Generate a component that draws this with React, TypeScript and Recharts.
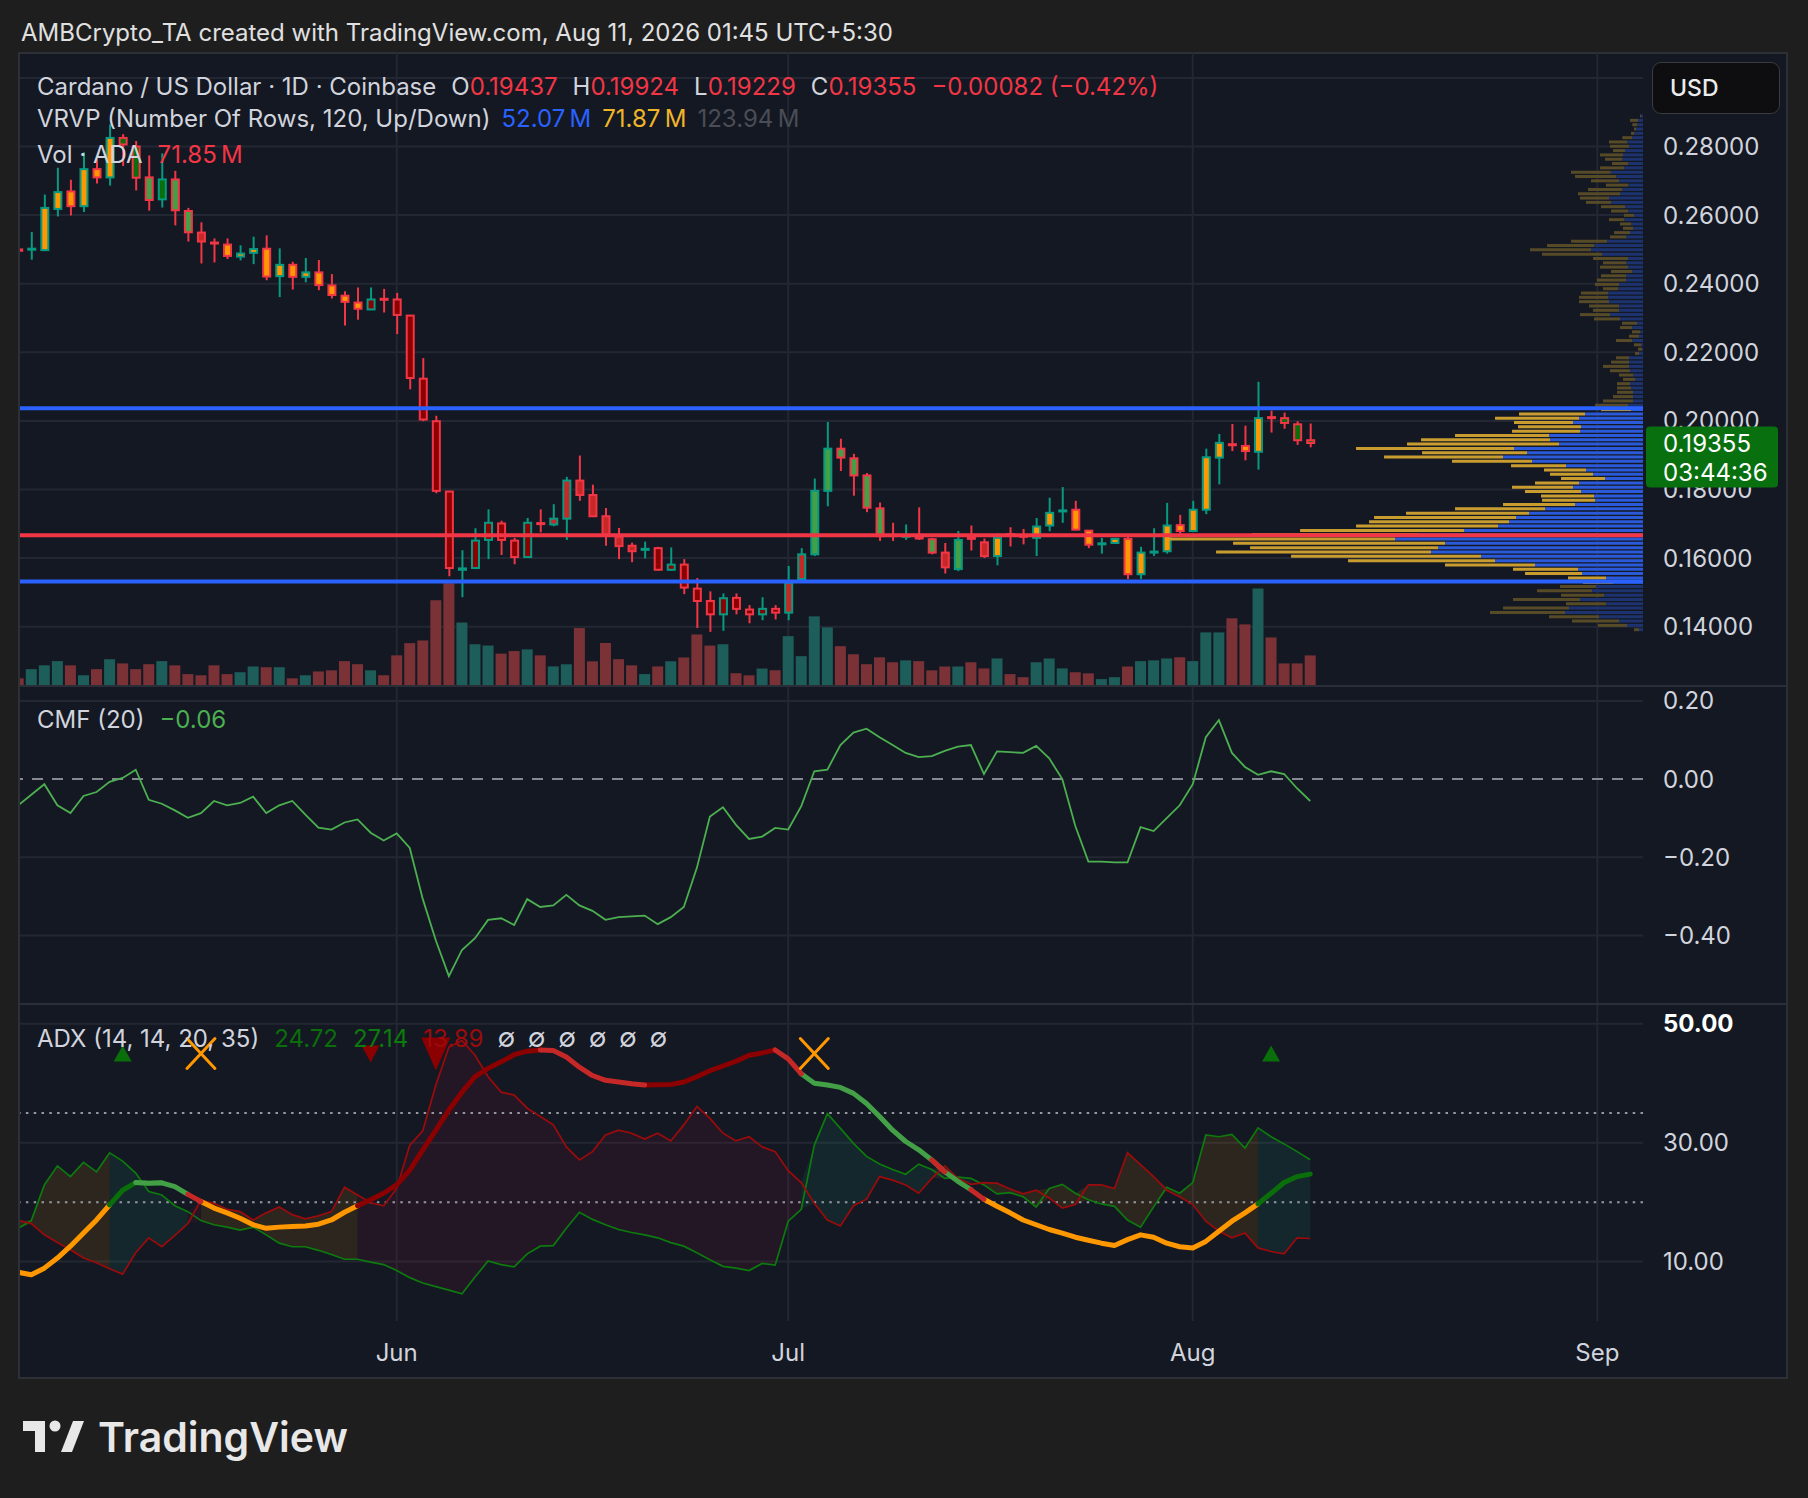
import React from 'react';
import { ComposedChart, Bar, Line, Area, Scatter, XAxis, YAxis, CartesianGrid, ReferenceLine, Cell } from 'recharts';

// ---------------- data ----------------
// day index 0 = May 3; one candle per day up to Aug 10 (index 99)
const MONTH_TICKS = [29, 59, 90, 121];
const MONTH_LABELS = ['Jun', 'Jul', 'Aug', 'Sep'];
const PRICE_TICKS = [0.14, 0.16, 0.18, 0.2, 0.22, 0.24, 0.26, 0.28];
const PRICE_GRID = [0.14, 0.16, 0.18, 0.2, 0.22, 0.24, 0.26, 0.28, 0.3];
const CMF_TICKS = [0.2, 0, -0.2, -0.4];
const CMF_GRID = [0.2, -0.2, -0.4];
const ADX_TICKS = [10, 30, 50];
const ADX_THRESHOLD = 20;
const ADX_STRONG = 35;

const OPEN = [0.2500,0.2500,0.2498,0.2618,0.2669,0.2626,0.2734,0.2710,0.2825,0.2800,
0.2710,0.2646,0.2704,0.2612,0.2549,0.2520,0.2514,0.2479,0.2490,0.2502,
0.2422,0.2455,0.2420,0.2433,0.2395,0.2365,0.2345,0.2325,0.2356,0.2354,
0.2307,0.2123,0.1999,0.1794,0.1566,0.1571,0.1653,0.1701,0.1651,0.1603,
0.1702,0.1698,0.1715,0.1826,0.1784,0.1722,0.1662,0.1636,0.1624,0.1629,
0.1566,0.1581,0.1511,0.1475,0.1436,0.1484,0.1450,0.1436,0.1452,0.1441,
0.1539,0.1611,0.1796,0.1919,0.1891,0.1841,0.1745,0.1667,0.1663,0.1660,
0.1655,0.1616,0.1568,0.1659,0.1646,0.1606,0.1670,0.1665,0.1659,0.1695,
0.1737,0.1741,0.1680,0.1641,0.1644,0.1656,0.1553,0.1616,0.1620,0.1696,
0.1679,0.1741,0.1893,0.1932,0.1927,0.1910,0.2011,0.2008,0.1990,0.19437];
const HIGH = [0.2503,0.2551,0.2660,0.2738,0.2703,0.2783,0.2763,0.2864,0.2836,0.2816,
0.2774,0.2780,0.2729,0.2621,0.2579,0.2532,0.2532,0.2512,0.2537,0.2541,
0.2503,0.2464,0.2475,0.2469,0.2428,0.2378,0.2389,0.2389,0.2385,0.2373,
0.2309,0.2183,0.2015,0.1796,0.1623,0.1687,0.1742,0.1709,0.1659,0.1717,
0.1742,0.1757,0.1837,0.1899,0.1814,0.1746,0.1688,0.1645,0.1648,0.1633,
0.1631,0.1597,0.1542,0.1503,0.1497,0.1497,0.1463,0.1486,0.1463,0.1577,
0.1629,0.1832,0.1997,0.1948,0.1904,0.1848,0.1762,0.1703,0.1698,0.1748,
0.1659,0.1644,0.1679,0.1695,0.1657,0.1672,0.1690,0.1685,0.1717,0.1776,
0.1807,0.1767,0.1681,0.1659,0.1659,0.1664,0.1633,0.1687,0.1761,0.1726,
0.1767,0.1919,0.1962,0.1991,0.1986,0.2114,0.2030,0.2024,0.1999,0.19924];
const LOW = [0.2493,0.2470,0.2495,0.2596,0.2599,0.2609,0.2692,0.2686,0.2743,0.2672,
0.2613,0.2622,0.2570,0.2523,0.2459,0.2462,0.2472,0.2468,0.2457,0.2410,
0.2361,0.2383,0.2404,0.2381,0.2357,0.2278,0.2295,0.2323,0.2316,0.2253,
0.2092,0.1999,0.1789,0.1547,0.1486,0.1568,0.1597,0.1609,0.1582,0.1601,
0.1675,0.1693,0.1653,0.1767,0.1720,0.1636,0.1597,0.1588,0.1599,0.1564,
0.1564,0.1495,0.1396,0.1385,0.1388,0.1436,0.1410,0.1419,0.1421,0.1419,
0.1537,0.1606,0.1751,0.1854,0.1782,0.1734,0.1650,0.1650,0.1653,0.1653,
0.1611,0.1555,0.1562,0.1622,0.1600,0.1579,0.1634,0.1640,0.1606,0.1678,
0.1703,0.1681,0.1629,0.1613,0.1642,0.1539,0.1539,0.1606,0.1613,0.1670,
0.1677,0.1728,0.1815,0.1912,0.1885,0.1858,0.1966,0.1977,0.1930,0.19229];
const CLOSE = [0.2496,0.2502,0.2621,0.2667,0.2626,0.2734,0.2710,0.2825,0.2806,0.2709,
0.2644,0.2704,0.2614,0.2550,0.2523,0.2518,0.2481,0.2488,0.2501,0.2421,
0.2455,0.2420,0.2433,0.2396,0.2367,0.2347,0.2327,0.2354,0.2354,0.2309,
0.2125,0.2004,0.1796,0.1571,0.1570,0.1651,0.1703,0.1653,0.1603,0.1703,
0.1700,0.1715,0.1826,0.1784,0.1722,0.1666,0.1635,0.1620,0.1627,0.1566,
0.1581,0.1514,0.1475,0.1436,0.1483,0.1452,0.1436,0.1452,0.1441,0.1528,
0.1611,0.1796,0.1919,0.1893,0.1841,0.1747,0.1664,0.1665,0.1665,0.1658,
0.1616,0.1573,0.1653,0.1657,0.1606,0.1659,0.1668,0.1663,0.1692,0.1732,
0.1739,0.1683,0.1639,0.1643,0.1656,0.1553,0.1616,0.1619,0.1695,0.1679,
0.1741,0.1894,0.1936,0.1930,0.1912,0.2008,0.2009,0.1994,0.19437,0.19355];
// volume in millions of ADA
const VOLUME = [18,39.5,48.5,58.4,48.5,25.2,39.5,62.9,53,39.5,
51.2,58.4,48.5,27.9,25.2,48.5,27.9,32.3,45.8,44,
44,18,25.2,34.1,36.8,58.4,51.2,36.8,25.2,71.9,
100.6,106.9,201.3,241,149,98,95,76,82,86,
72,46,51,136,58,101,63,48.5,28,46,
58,67,121,95,98,30,25,41,37,117,
70,163.5,137.5,93.5,74.6,51.2,67.4,55.7,60.2,58.4,
36.8,45.8,45.8,55.7,41.3,64.7,27.9,20.7,55.7,64.7,
41.3,32.3,29.7,16.2,20.7,45.8,58.4,60.2,64.7,67.4,
58.4,125.8,125.8,159,144.7,229,114,53,53,71.85];
const CMF = [-0.067,-0.040,-0.013,-0.067,-0.087,-0.043,-0.033,-0.007,0.003,0.024,
-0.053,-0.063,-0.080,-0.099,-0.087,-0.056,-0.067,-0.061,-0.045,-0.087,
-0.067,-0.056,-0.091,-0.124,-0.129,-0.111,-0.103,-0.137,-0.157,-0.139,
-0.176,-0.307,-0.413,-0.504,-0.437,-0.407,-0.360,-0.356,-0.373,-0.307,
-0.327,-0.323,-0.296,-0.323,-0.337,-0.360,-0.353,-0.351,-0.349,-0.371,
-0.353,-0.327,-0.227,-0.096,-0.072,-0.117,-0.153,-0.147,-0.125,-0.129,
-0.069,0.020,0.024,0.087,0.119,0.129,0.107,0.087,0.067,0.056,
0.059,0.072,0.083,0.087,0.013,0.071,0.069,0.067,0.085,0.053,
0.000,-0.120,-0.211,-0.211,-0.213,-0.213,-0.123,-0.133,-0.100,-0.067,
-0.013,0.107,0.151,0.067,0.031,0.011,0.020,0.013,-0.024,-0.056];
const ADX = [8.2,7.8,8.9,10.6,12.6,14.8,17.0,19.55,22.0,23.3,
23.2,23.25,22.6,21.3,20.1,19.0,18.2,17.3,16.2,15.6,
15.8,15.9,16.0,16.3,17.0,18.3,19.4,20.4,21.5,22.9,
25.4,28.8,32.1,35.5,38.5,41.1,42.5,43.6,44.8,45.4,
45.6,45.5,44.4,42.7,41.3,40.5,40.2,39.9,39.7,39.75,
39.8,40.2,41.1,42.1,42.9,43.7,44.7,45.1,45.6,44.1,
41.6,40.0,39.7,39.3,38.3,36.6,34.4,32.1,30.2,28.8,
27.1,25.1,23.5,22.1,20.5,19.3,18.2,17.0,16.2,15.4,
14.8,14.1,13.6,13.1,12.7,13.7,14.5,14.1,13.1,12.5,
12.3,13.4,15.1,16.8,18.2,19.7,21.5,23.3,24.3,24.72];
const PLUS_DI = [15.6,16.9,22.9,26.1,24.3,26.7,25.1,28.3,26.9,24.9,
21.8,21.2,19.4,18.4,16.9,16.2,15.8,15.3,15.8,14.5,
13.1,12.5,12.5,11.9,11.2,10.4,10.4,9.9,9.5,8.5,
7.3,6.4,5.8,5.2,4.6,7.4,10.1,9.5,9.1,11.3,
12.6,12.7,15.6,18.3,17.1,16.2,15.4,14.9,14.5,14.0,
13.2,12.6,11.5,10.3,9.2,8.9,8.5,9.7,9.4,16.8,
18.8,29.6,34.9,32.4,29.9,27.7,26.4,25.5,24.7,26.4,
25.5,24.0,24.2,24.0,22.9,21.4,21.6,20.9,19.2,22.3,
23.0,21.5,20.4,19.7,19.3,17.0,15.8,19.2,22.5,21.5,
23.3,31.3,31.0,31.4,29.1,32.5,31.0,29.8,28.5,27.14];
const MINUS_DI = [16.9,16.4,14.5,13.2,12.0,10.6,9.8,8.8,7.9,11.5,
14.0,12.5,14.4,16.4,20.3,19.8,18.8,18.4,17.0,18.2,
19.2,17.9,17.2,17.7,18.4,22.5,21.2,19.9,19.4,22.3,
29.6,32.0,39.7,46.1,47.2,44.7,41.1,38.5,38.0,35.8,
34.4,33.0,29.3,27.1,28.5,31.3,32.1,31.6,30.6,31.6,
30.3,33.0,36.1,34.1,31.6,30.3,31.0,29.3,28.5,25.3,
23.3,19.8,17.0,16.0,19.4,20.5,24.3,23.7,22.9,21.5,
24.0,26.1,24.0,23.0,23.3,23.2,22.2,21.4,22.0,20.7,
19.0,19.6,22.9,22.9,22.3,28.3,26.3,24.3,22.0,20.9,
19.6,16.8,15.1,14.0,14.8,12.3,11.7,11.3,14.0,13.89];
// signal markers of the ADX study (day index, kind)
const MARKER_DAYS = [8, 14, 27, 32, 61, 96];
const MARKER_KINDS = ['up', 'x', 'down', 'downBig', 'x', 'up'];
const MARKER_LEVEL = 45.0;
// visible-range volume profile, 120 rows from VP_LOW to VP_HIGH (bottom to top)
const VP_LOW = 0.1386;
const VP_HIGH = 0.2896;
const VP_UP = [4,16,24,44,78,74,37,63,39,51, 47,30,37,61,65,108,148,162,212,205,
198,248,224,179,145,134,127,114,98,68, 48,49,62,70,64,38,50,57,77,111,
140,116,129,84,93,94,63,62,70,64, 58,12,15,10,10,10,12,13,8,9.7,
13,14,14,14,4,1,2,10.7,4,2.7, 10.7,6,23,33,24,24,34,35,35,24.7,
24,17,16.7,10.7,15,16.7,15,41,52,48.7, 36,16.7,13,9.7,11.7,18.7,9,14.7,18,31.7,
34,23,20.7,14.7,24,26.7,32.3,19,14.7,20.7, 20,18,14,15.7,10.7,8.7,7,5.7,4.7,2];
const VP_DOWN = [5,29,47,50,75,66,40,67,43,55, 36,30,38,57,65,90,147,190,215,188,
212,226,167,164,142,140,142,123,90,72, 53,53,56,61,44,44,43,42,55,80,
119,105,158,152,129,94,68,63,59,84, 66,30,33,30,20,16,14,13,12,14.3,
20,26,18,13,4,4,7,16.3,10,8.3, 12.3,15,26,30,26,30,30,29,27,15.3,
24,29,25.3,21.3,28,23.3,35,60,61,47.3, 36,16.3,16,10.3,11.3,15.3,10,17.3,24,25.3,
29,42,34.3,22.3,28,41.3,39.7,24,16.3,17.3, 23,12,19,18.3,10,3.3,2,5,8.3,1];
const VAH = 0.2037;
const VAL = 0.1532;
const POC = 0.16665;
const COUNTDOWN = '03:44:36';
const NA_COUNT = 6;

// ---------------- style / layout ----------------
const FONT = 'Inter, "Noto Sans", "DejaVu Sans", sans-serif';
const BG = '#1e1e1e';
const PANE_BG = '#141823';
const GRID = '#232733';
const TEXT = '#d1d4dc';
const UP = '#089981';
const DOWN = '#f23645';
const VOL_UP = '#1d5e5a';
const VOL_DOWN = '#7a3237';
const LEVEL_BLUE = '#2962ff';
const LEVEL_RED = '#f23645';
const VP_COLORS = { upIn: '#2a5ad9', dnIn: '#c99c30', upOut: '#1c336f', dnOut: '#574a27' };
const CMF_COLOR = '#4caf50';
const PDI_COLOR = '#0d7a0d';
const MDI_COLOR = '#9c0b0b';
const STATE_COLORS: any = { o: '#ff9800', gd: '#0a6e0a', gl: '#43a047', rd: '#8b0000', rl: '#c62828' };
const STATE_KEYS = ['o', 'gd', 'gl', 'rd', 'rl'];
const GROUP_FILL: any = { o: 'rgba(255,152,0,0.11)', g: 'rgba(20,150,110,0.13)', r: 'rgba(120,20,50,0.16)' };
const BADGE = '#09700f';

const CHART_W = 1767;
const AXIS_W = 144;
const X_DOMAIN: [number, number] = [0.134, 124.5];
const PRICE_DOMAIN: [number, number] = [0.122711, 0.307259];
const CMF_DOMAIN: [number, number] = [-0.5752, 0.2381];
const ADX_DOMAIN: [number, number] = [0.01, 53.33];
const VOL_AXIS_MAX = 1486;
const PROFILE_SHARE = 0.292;
const FS = 24;
const AXIS_FS = 24;

// ---------------- derived rows ----------------
const N = OPEN.length;
const IDX = OPEN.map((_, k) => k);
const adxState = (k: number) => {
  if (ADX[k] < ADX_THRESHOLD) return 'o';
  const rising = k === 0 || ADX[k] >= ADX[k - 1];
  if (PLUS_DI[k] >= MINUS_DI[k]) return rising ? 'gd' : 'gl';
  return rising ? 'rd' : 'rl';
};
const STATES = IDX.map(adxState);
const group = (s: string) => (s ? s[0] : '');

const candleRows = IDX.map((k) => ({ i: k, o: OPEN[k], h: HIGH[k], l: LOW[k], c: CLOSE[k], v: VOLUME[k], tone: STATES[k] }));
const cmfRows = IDX.map((k) => ({ i: k, cmf: CMF[k] }));
const adxRows = IDX.map((k) => {
  const s = STATES[k];
  const sn = k + 1 < N ? STATES[k + 1] : '';
  const row: any = { i: k, adx: ADX[k], pdi: PLUS_DI[k], mdi: MINUS_DI[k] };
  STATE_KEYS.forEach((key) => { row['adx_' + key] = s === key || sn === key ? ADX[k] : null; });
  const lo = Math.min(PLUS_DI[k], MINUS_DI[k]);
  const hi = Math.max(PLUS_DI[k], MINUS_DI[k]);
  ['o', 'g', 'r'].forEach((g) => { row['fill_' + g] = group(s) === g || group(sn) === g ? [lo, hi] : null; });
  return row;
});
const markerRows = MARKER_DAYS.map((d, k) => ({ i: d, y: MARKER_LEVEL, kind: MARKER_KINDS[k] }));
const VP_STEP = (VP_HIGH - VP_LOW) / VP_UP.length;
const vpRows = VP_UP.map((u, k) => {
  const lo = VP_LOW + k * VP_STEP;
  const hi = lo + VP_STEP;
  return { p: (lo + hi) / 2, up: u, dn: VP_DOWN[k], inVA: hi >= VAL && lo <= VAH };
});
const maxRow = Math.max(...vpRows.map((r) => r.up + r.dn));
const PROFILE_SPAN = maxRow / PROFILE_SHARE;

const minus = (s: string) => s.replace('-', '\u2212');
const LAST = N - 1;
const change = CLOSE[LAST] - CLOSE[LAST - 1];
const changePct = (change / CLOSE[LAST - 1]) * 100;

// ---------------- shapes ----------------
const CandleShape = (props: any) => {
  const { x, y, width, height, payload } = props;
  if (payload == null || x == null) return null;
  const top = Math.min(y, y + height);
  const h = Math.abs(height);
  const range = payload.h - payload.l;
  const py = (v: number) => top + (range > 0 ? ((payload.h - v) / range) * h : 0);
  const up = payload.c >= payload.o;
  const border = up ? UP : DOWN;
  const cx = x + width / 2;
  const yo = py(payload.o);
  const yc = py(payload.c);
  const bt = Math.min(yo, yc);
  const bh = Math.max(Math.abs(yc - yo), 1);
  return (
    <g>
      <line x1={cx} x2={cx} y1={top} y2={top + h} stroke={border} strokeWidth={2} />
      <rect x={x + 1.5} y={bt} width={width - 3} height={bh} fill={STATE_COLORS[payload.tone]} stroke={border} strokeWidth={2} />
    </g>
  );
};

const MarkerShape = (props: any) => {
  const { cx, cy, payload } = props;
  if (cx == null || cy == null) return null;
  const kind = payload.kind;
  if (kind === 'up') return <polygon points={`${cx - 9},${cy + 8} ${cx + 9},${cy + 8} ${cx},${cy - 8}`} fill={STATE_COLORS.gd} />;
  if (kind === 'down') return <polygon points={`${cx - 9},${cy - 8} ${cx + 9},${cy - 8} ${cx},${cy + 9}`} fill={STATE_COLORS.rd} />;
  if (kind === 'downBig') return <polygon points={`${cx - 14.5},${cy - 16} ${cx + 14.5},${cy - 16} ${cx},${cy + 17}`} fill={STATE_COLORS.rd} />;
  return (
    <g stroke="#ff9800" strokeWidth={3} strokeLinecap="round">
      <line x1={cx - 14} y1={cy - 15} x2={cx + 14} y2={cy + 15} />
      <line x1={cx + 14} y1={cy - 15} x2={cx - 14} y2={cy + 15} />
    </g>
  );
};

const BadgeLabel = (props: any) => {
  const vb = props.viewBox;
  if (!vb) return null;
  const x = vb.x + vb.width + 3;
  const y = vb.y;
  return (
    <g>
      <rect x={x} y={y - 16.5} width={132} height={61} rx={4} fill={BADGE} />
      <text x={x + 17} y={y} dy="0.36em" fill="#ffffff" fontSize={AXIS_FS} fontFamily={FONT}>{CLOSE[LAST].toFixed(5)}</text>
      <text x={x + 17} y={y + 29} dy="0.36em" fill="#ffffff" fontSize={AXIS_FS} fontFamily={FONT}>{COUNTDOWN}</text>
    </g>
  );
};

const MonthTick = (props: any) => {
  const { x, y, payload } = props;
  const k = MONTH_TICKS.indexOf(payload.value);
  return (
    <text x={x} y={y + 31} dy="0.36em" textAnchor="middle" fill={TEXT} fontSize={AXIS_FS} fontFamily={FONT}>{MONTH_LABELS[k]}</text>
  );
};

const AdxTick = (props: any) => {
  const { x, y, payload } = props;
  const top = payload.value === ADX_TICKS[ADX_TICKS.length - 1];
  return (
    <text x={x} y={y} dy="0.36em" fill={top ? '#ffffff' : TEXT} fontWeight={top ? 700 : 400} fontSize={AXIS_FS} fontFamily={FONT}>{payload.value.toFixed(2)}</text>
  );
};

const axisTick = { fill: TEXT, fontSize: AXIS_FS, fontFamily: FONT };
const M0 = { top: 0, right: 0, bottom: 0, left: 0 };

const Txt = ({ x, y, size = FS, color = TEXT, weight = 400, children }: any) => (
  <div style={{ position: 'absolute', left: x, top: y - size * 0.5, fontSize: size, lineHeight: `${size}px`, color, fontWeight: weight, whiteSpace: 'nowrap', fontFamily: FONT }}>{children}</div>
);

const Gap = ({ w = 15 }: any) => <span style={{ display: 'inline-block', width: w }} />;

export default function App() {
  return (
    <div style={{ position: 'absolute', left: 0, top: 0, width: 1808, height: 1498, background: BG, overflow: 'hidden', fontFamily: FONT }}>
      <Txt x={21} y={33} size={24} color="#e0e0e0">AMBCrypto_TA created with TradingView.com, Aug 11, 2026 01:45 UTC+5:30</Txt>

      <div style={{ position: 'absolute', left: 18, top: 52, width: 1770, height: 1327, background: PANE_BG, border: '2px solid #2e3038', boxSizing: 'border-box' }} />

      {/* price pane: grid, volume, candles */}
      <div style={{ position: 'absolute', left: 20, top: 53 }}>
        <ComposedChart width={CHART_W} height={633} data={candleRows} margin={M0}>
          <CartesianGrid xAxisId="c" yAxisId="p" stroke={GRID} strokeWidth={2} horizontalValues={PRICE_GRID} verticalValues={MONTH_TICKS} />
          <XAxis xAxisId="c" dataKey="i" type="number" domain={X_DOMAIN} allowDataOverflow ticks={MONTH_TICKS} hide />
          <XAxis xAxisId="v" dataKey="i" type="number" domain={X_DOMAIN} allowDataOverflow hide />
          <YAxis yAxisId="p" orientation="right" width={AXIS_W} type="number" domain={PRICE_DOMAIN} allowDataOverflow ticks={PRICE_TICKS} interval={0}
            tickFormatter={(v: number) => v.toFixed(5)} axisLine={false} tickLine={false} tickSize={0} tickMargin={20} tick={axisTick} />
          <YAxis yAxisId="vol" type="number" domain={[0, VOL_AXIS_MAX]} allowDataOverflow hide />
          <Bar xAxisId="v" yAxisId="vol" dataKey="v" barSize={11} isAnimationActive={false}>
            {candleRows.map((r) => <Cell key={r.i} fill={r.c >= r.o ? VOL_UP : VOL_DOWN} />)}
          </Bar>
          <Bar xAxisId="c" yAxisId="p" dataKey={(r: any) => [r.l, r.h]} barSize={10} shape={CandleShape} isAnimationActive={false} />
        </ComposedChart>
      </div>

      {/* volume profile + levels + last price badge */}
      <div style={{ position: 'absolute', left: 20, top: 53 }}>
        <ComposedChart layout="vertical" width={CHART_W} height={633} data={vpRows} margin={{ top: 0, right: AXIS_W, bottom: 0, left: 0 }}>
          <XAxis type="number" domain={[0, PROFILE_SPAN]} reversed hide />
          <YAxis type="number" dataKey="p" domain={PRICE_DOMAIN} allowDataOverflow reversed hide />
          <Bar dataKey="up" stackId="vp" barSize={3} isAnimationActive={false}>
            {vpRows.map((r, k) => <Cell key={k} fill={r.inVA ? VP_COLORS.upIn : VP_COLORS.upOut} />)}
          </Bar>
          <Bar dataKey="dn" stackId="vp" barSize={3} isAnimationActive={false}>
            {vpRows.map((r, k) => <Cell key={k} fill={r.inVA ? VP_COLORS.dnIn : VP_COLORS.dnOut} />)}
          </Bar>
          <ReferenceLine y={VAH} stroke={LEVEL_BLUE} strokeWidth={4} />
          <ReferenceLine y={VAL} stroke={LEVEL_BLUE} strokeWidth={4} />
          <ReferenceLine y={POC} stroke={LEVEL_RED} strokeWidth={4} />
          <ReferenceLine y={CLOSE[LAST]} stroke="none" label={(p: any) => <BadgeLabel {...p} />} />
        </ComposedChart>
      </div>

      {/* CMF pane */}
      <div style={{ position: 'absolute', left: 20, top: 686 }}>
        <ComposedChart width={CHART_W} height={318} data={cmfRows} margin={M0}>
          <CartesianGrid stroke={GRID} strokeWidth={2} horizontalValues={CMF_GRID} verticalValues={MONTH_TICKS} />
          <XAxis dataKey="i" type="number" domain={X_DOMAIN} allowDataOverflow ticks={MONTH_TICKS} hide />
          <YAxis orientation="right" width={AXIS_W} type="number" domain={CMF_DOMAIN} allowDataOverflow ticks={CMF_TICKS} interval={0}
            tickFormatter={(v: number) => minus(v.toFixed(2))} axisLine={false} tickLine={false} tickSize={0} tickMargin={20} tick={axisTick} />
          <ReferenceLine y={0} stroke="#868993" strokeWidth={2} strokeDasharray="11 9" />
          <Line dataKey="cmf" type="linear" stroke={CMF_COLOR} strokeWidth={1.8} dot={false} activeDot={false} isAnimationActive={false} />
        </ComposedChart>
      </div>

      {/* ADX pane + time axis */}
      <div style={{ position: 'absolute', left: 20, top: 1004 }}>
        <ComposedChart width={CHART_W} height={373} data={adxRows} margin={M0}>
          <CartesianGrid stroke={GRID} strokeWidth={2} horizontalValues={ADX_TICKS} verticalValues={MONTH_TICKS} />
          <XAxis dataKey="i" type="number" domain={X_DOMAIN} allowDataOverflow ticks={MONTH_TICKS} interval={0} height={56}
            axisLine={false} tickLine={false} tickSize={0} tickMargin={0} tick={<MonthTick />} />
          <YAxis orientation="right" width={AXIS_W} type="number" domain={ADX_DOMAIN} allowDataOverflow ticks={ADX_TICKS} interval={0}
            axisLine={false} tickLine={false} tickSize={0} tickMargin={20} tick={<AdxTick />} />
          <ReferenceLine y={ADX_THRESHOLD} stroke="#9598a1" strokeWidth={2} strokeDasharray="2.5 5.3" />
          <ReferenceLine y={ADX_STRONG} stroke="#9598a1" strokeWidth={2} strokeDasharray="2.5 5.3" />
          {['o', 'g', 'r'].map((g) => (
            <Area key={g} dataKey={'fill_' + g} type="linear" stroke="none" fill={GROUP_FILL[g]} fillOpacity={1} dot={false} activeDot={false} isAnimationActive={false} />
          ))}
          <Line dataKey="pdi" type="linear" stroke={PDI_COLOR} strokeWidth={1.7} dot={false} activeDot={false} isAnimationActive={false} />
          <Line dataKey="mdi" type="linear" stroke={MDI_COLOR} strokeWidth={1.7} dot={false} activeDot={false} isAnimationActive={false} />
          {STATE_KEYS.map((s) => (
            <Line key={s} dataKey={'adx_' + s} type="linear" stroke={STATE_COLORS[s]} strokeWidth={5} strokeLinecap="round" strokeLinejoin="round"
              dot={false} activeDot={false} isAnimationActive={false} />
          ))}
          <Scatter data={markerRows} dataKey="y" shape={MarkerShape} isAnimationActive={false} />
        </ComposedChart>
      </div>

      {/* pane separators */}
      <div style={{ position: 'absolute', left: 20, top: 685, width: 1767, height: 2, background: '#2a2e39' }} />
      <div style={{ position: 'absolute', left: 20, top: 1003, width: 1767, height: 2, background: '#2a2e39' }} />

      {/* legends */}
      <Txt x={37} y={86.7}>
        <span>Cardano / US Dollar · 1D · Coinbase</span><Gap />
        <span>O</span><span style={{ color: DOWN }}>{OPEN[LAST].toFixed(5)}</span><Gap />
        <span>H</span><span style={{ color: DOWN }}>{HIGH[LAST].toFixed(5)}</span><Gap />
        <span>L</span><span style={{ color: DOWN }}>{LOW[LAST].toFixed(5)}</span><Gap />
        <span>C</span><span style={{ color: DOWN }}>{CLOSE[LAST].toFixed(5)}</span><Gap />
        <span style={{ color: DOWN }}>{minus(change.toFixed(5))} ({minus(changePct.toFixed(2))}%)</span>
      </Txt>
      <Txt x={37} y={119}>
        <span>VRVP (Number Of Rows, 120, Up/Down)</span><Gap w={11} />
        <span style={{ color: '#2962ff' }}>52.07{'\u202F'}M</span><Gap w={11} />
        <span style={{ color: '#f0b429' }}>71.87{'\u202F'}M</span><Gap w={11} />
        <span style={{ color: '#4a4d55' }}>123.94{'\u202F'}M</span>
      </Txt>
      <Txt x={37} y={155}>
        <span>Vol · ADA</span><Gap />
        <span style={{ color: DOWN }}>{VOLUME[LAST].toFixed(2)}{'\u202F'}M</span>
      </Txt>
      <Txt x={37} y={720}>
        <span>CMF (20)</span><Gap />
        <span style={{ color: CMF_COLOR }}>{minus(CMF[LAST].toFixed(2))}</span>
      </Txt>
      <Txt x={37} y={1038}>
        <span>ADX (14, 14, {ADX_THRESHOLD}, {ADX_STRONG})</span><Gap />
        <span style={{ color: STATE_COLORS[STATES[LAST]] }}>{ADX[LAST].toFixed(2)}</span><Gap />
        <span style={{ color: PDI_COLOR }}>{PLUS_DI[LAST].toFixed(2)}</span><Gap />
        <span style={{ color: MDI_COLOR }}>{MINUS_DI[LAST].toFixed(2)}</span><Gap w={14} />
        {Array.from({ length: NA_COUNT }).map((_, k) => (
          <span key={k} style={{ display: 'inline-block', width: 30.4, fontSize: 26 }}>{'\u2205'}</span>
        ))}
      </Txt>

      {/* currency box */}
      <div style={{ position: 'absolute', left: 1652, top: 62, width: 128, height: 52, background: '#0e0e10', border: '1.5px solid #3a3b40', borderRadius: 9, boxSizing: 'border-box' }} />
      <Txt x={1670} y={88} size={23} color="#ececec" weight={500}>USD</Txt>

      {/* TradingView logo */}
      <svg style={{ position: 'absolute', left: 22, top: 1418 }} width={64} height={36}>
        <rect x={1} y={3} width={22} height={10} fill="#e8e8e8" />
        <rect x={13} y={3} width={10} height={31} fill="#e8e8e8" />
        <circle cx={33} cy={8} r={5.5} fill="#e8e8e8" />
        <polygon points="39,34 51,3 62,3 50,34" fill="#e8e8e8" />
      </svg>
      <Txt x={98} y={1437} size={41} color="#e8e8e8" weight={600}>TradingView</Txt>
    </div>
  );
}
